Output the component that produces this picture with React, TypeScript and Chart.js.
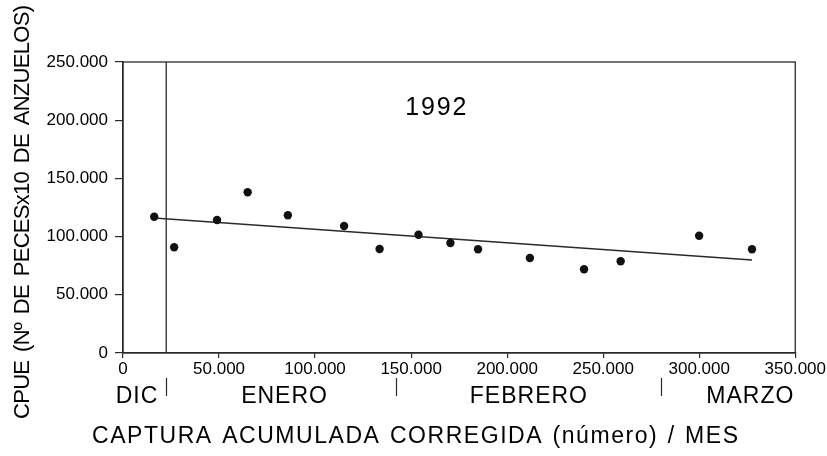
import { useEffect, useRef } from 'react';
import { Chart, registerables } from 'chart.js';

Chart.register(...registerables);

// ---- data ----
const catchX = [16250, 26640, 48960, 64900, 85830, 115110, 133590, 153840, 170460, 184840, 211840, 240030, 259090, 299950, 327470];
const cpueY = [117100, 90800, 114260, 138060, 118300, 109100, 89350, 101630, 94500, 89180, 81620, 71910, 78780, 100770, 89090];
const trendX = [16250, 327470];
const trendY = [115980, 79900];
const decemberEnd = 22500;
const monthNames = ['DIC', 'ENERO', 'FEBRERO', 'MARZO'];
const monthCenters = [7270, 84110, 211320, 326580];
const monthBoundaries = [22500, 142260, 279850];
const yearLabel = '1992';
const yearPos = [162900, 210000];
const xMin = 0, xMax = 350000, xStep = 50000;
const yMin = 0, yMax = 250000, yStep = 50000;
const xTitle = 'CAPTURA ACUMULADA CORREGIDA (número) / MES';
const yTitle = 'CPUE (Nº DE PECESx10 DE ANZUELOS)';

const INK = '#2a2a2a';
const FONT = '"Liberation Sans", Arial, sans-serif';
const NARROW = '"Liberation Sans Narrow", "Liberation Sans", Arial, sans-serif';

const fmt = (v: number) => String(v).replace(/\B(?=(\d{3})+(?!\d))/g, '.');

function drawFitted(ctx: CanvasRenderingContext2D, text: string, cx: number, cy: number, target: number) {
  (ctx as any).letterSpacing = '0px';
  const natural = ctx.measureText(text).width;
  const ls = (target - natural) / Math.max(1, text.length);
  (ctx as any).letterSpacing = `${ls}px`;
  const w = ctx.measureText(text).width;
  ctx.textAlign = 'left';
  ctx.textBaseline = 'middle';
  ctx.fillText(text, cx - w / 2 + ls / 2, cy);
  (ctx as any).letterSpacing = '0px';
}

// draws words with a fixed gap, stretching letter spacing so the line spans `target`
function drawWords(ctx: CanvasRenderingContext2D, text: string, cx: number, cy: number, target: number, gap: number) {
  (ctx as any).letterSpacing = '0px';
  const words = text.split(' ');
  const natural = words.map((w) => ctx.measureText(w).width);
  const sumNat = natural.reduce((a, b) => a + b, 0);
  const inner = words.reduce((a, w) => a + Math.max(0, w.length - 1), 0);
  const ls = (target - sumNat - gap * (words.length - 1)) / Math.max(1, inner);
  (ctx as any).letterSpacing = `${ls}px`;
  let x = cx - target / 2;
  ctx.textAlign = 'left';
  ctx.textBaseline = 'middle';
  words.forEach((w, i) => {
    ctx.fillText(w, x, cy);
    x += natural[i] + ls * Math.max(0, w.length - 1) + gap;
  });
  (ctx as any).letterSpacing = '0px';
}

const decorPlugin = {
  id: 'decor',
  afterDraw(chart: any) {
    const { ctx, chartArea, scales } = chart;
    const xs = scales.x, ys = scales.y;
    ctx.save();
    // frame top/right
    ctx.strokeStyle = INK;
    ctx.lineWidth = 1.3;
    ctx.strokeRect(chartArea.left, chartArea.top, chartArea.right - chartArea.left, chartArea.bottom - chartArea.top);
    // month boundaries below axis
    ctx.lineWidth = 1.2;
    monthBoundaries.forEach((b) => {
      const px = Math.round(xs.getPixelForValue(b)) + 0.5;
      ctx.beginPath();
      ctx.moveTo(px, chartArea.bottom + 25);
      ctx.lineTo(px, chartArea.bottom + 43);
      ctx.stroke();
    });
    ctx.fillStyle = '#000';
    ctx.font = `23px ${FONT}`;
    (ctx as any).letterSpacing = '1px';
    ctx.textAlign = 'center';
    ctx.textBaseline = 'middle';
    monthNames.forEach((m, i) => {
      ctx.fillText(m, xs.getPixelForValue(monthCenters[i]), chartArea.bottom + 44);
    });
    (ctx as any).letterSpacing = '0px';
    // year label
    ctx.font = `25px ${FONT}`;
    drawFitted(ctx, yearLabel, xs.getPixelForValue(yearPos[0]), ys.getPixelForValue(yearPos[1]), 63);
    // x title
    ctx.font = `23px ${NARROW}`;
    drawWords(ctx, xTitle, 415, 437, 646, 11);
    // y title
    ctx.translate(23, 212);
    ctx.rotate(-Math.PI / 2);
    ctx.font = `22px ${NARROW}`;
    drawWords(ctx, yTitle, 0, 0, 414, 8);
    ctx.restore();
  },
};

export default function App() {
  const ref = useRef<HTMLCanvasElement>(null);
  useEffect(() => {
    document.body.style.margin = '0';
    const chart = new Chart(ref.current!, {
      type: 'scatter',
      data: {
        datasets: [
          {
            data: catchX.map((x, i) => ({ x, y: cpueY[i] })),
            pointRadius: 4.2,
            pointBackgroundColor: '#111',
            pointBorderWidth: 0,
            showLine: false,
          },
          {
            data: trendX.map((x, i) => ({ x, y: trendY[i] })),
            showLine: true,
            borderColor: INK,
            borderWidth: 1.5,
            pointRadius: 0,
          },
          {
            data: [{ x: decemberEnd, y: yMin }, { x: decemberEnd, y: yMax }],
            showLine: true,
            borderColor: INK,
            borderWidth: 1.3,
            pointRadius: 0,
          },
        ],
      },
      options: {
        responsive: false,
        animation: false,
        layout: { padding: { top: 62, right: 30, left: 0, bottom: 0 } },
        plugins: { legend: { display: false }, tooltip: { enabled: false } },
        scales: {
          x: {
            type: 'linear',
            min: xMin,
            max: xMax,
            afterFit: (s: any) => { s.height = 103; },
            border: { color: INK, width: 1.3 },
            grid: { drawOnChartArea: false, drawTicks: true, tickLength: 5, color: INK, lineWidth: 1.2 },
            ticks: {
              stepSize: xStep,
              maxRotation: 0,
              padding: 1,
              color: '#000',
              font: { family: FONT, size: 17 },
              callback: (v: any) => fmt(Number(v)),
            },
          },
          y: {
            type: 'linear',
            min: yMin,
            max: yMax,
            afterFit: (s: any) => { s.width = 123; },
            border: { color: INK, width: 1.3 },
            grid: { drawOnChartArea: false, drawTicks: true, tickLength: 8, color: INK, lineWidth: 1.2 },
            ticks: {
              stepSize: yStep,
              padding: 7,
              color: '#000',
              font: { family: FONT, size: 17 },
              callback: (v: any) => fmt(Number(v)),
            },
          },
        },
      },
      plugins: [decorPlugin],
    } as any);
    return () => chart.destroy();
  }, []);
  return (
    <div style={{ position: 'fixed', left: 0, top: 0, width: 827, height: 456, background: '#fff' }}>
      <canvas ref={ref} width={827} height={456} />
    </div>
  );
}
